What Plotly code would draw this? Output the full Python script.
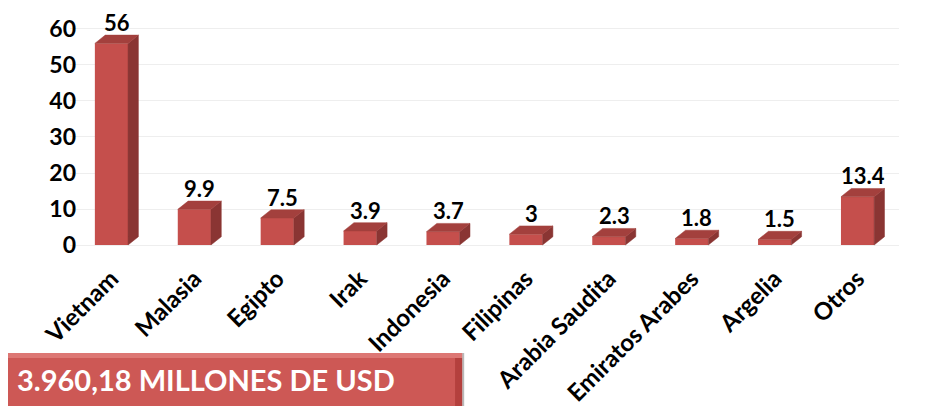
import plotly.graph_objects as go

# data
paises = ['Vietnam', 'Malasia', 'Egipto', 'Irak', 'Indonesia', 'Filipinas',
          'Arabia Saudita', 'Emiratos Arabes', 'Argelia', 'Otros']
valores = [56, 9.9, 7.5, 3.9, 3.7, 3, 2.3, 1.8, 1.5, 13.4]
etiquetas = ['56', '9.9', '7.5', '3.9', '3.7', '3', '2.3', '1.8', '1.5', '13.4']
total_texto = '3.960,18 MILLONES DE USD'

# 3D look of the bars
ancho = 0.4      # front face width (category units)
dx = 0.125       # depth to the right
dy = 2.3         # depth upward (value units)

xs = list(range(len(paises)))

# side faces
lado_x, lado_y = [], []
for i, v in zip(xs, valores):
    r = i + ancho / 2
    lado_x += [r, r + dx, r + dx, r, r, None]
    lado_y += [0, dy, v + dy, v, 0, None]

# top faces
tapa_x, tapa_y = [], []
for i, v in zip(xs, valores):
    l = i - ancho / 2
    r = i + ancho / 2
    tapa_x += [l, l + dx, r + dx, r, l, None]
    tapa_y += [v, v + dy, v + dy, v, v, None]

fig = go.Figure()

fig.add_trace(go.Bar(
    x=xs, y=valores, width=ancho,
    marker=dict(color='#C54F4C', line=dict(width=0)),
    hoverinfo='skip'
))
fig.add_trace(go.Scatter(
    x=lado_x, y=lado_y, mode='lines', fill='toself',
    fillcolor='#8A3533', line=dict(width=0.5, color='#8A3533'),
    hoverinfo='skip'
))
fig.add_trace(go.Scatter(
    x=tapa_x, y=tapa_y, mode='lines', fill='toself',
    fillcolor='#A3403D', line=dict(width=0.5, color='#A3403D'),
    hoverinfo='skip'
))

# value labels
for i, v, t in zip(xs, valores, etiquetas):
    fig.add_annotation(
        x=i + dx / 2, y=v + dy, text=t, showarrow=False,
        yanchor='bottom', yshift=-2, borderpad=0,
        font=dict(family='Lato', size=22, color='black', weight='bold')
    )

# banner with the total (flat face + light top bevel + dark right bevel)
fig.add_shape(
    type='rect', xref='paper', yref='paper',
    x0=0.473, x1=0.4755, y0=-0.4435, y1=-0.72,
    fillcolor='#B8B8B8', line=dict(width=0), layer='above'
)
fig.add_shape(
    type='rect', xref='paper', yref='paper',
    x0=-0.0837, x1=0.473, y0=-0.4435, y1=-0.72,
    fillcolor='#CD5855', line=dict(width=0), layer='above'
)
fig.add_shape(
    type='rect', xref='paper', yref='paper',
    x0=-0.0837, x1=0.473, y0=-0.4435, y1=-0.4644,
    fillcolor='#DD7774', line=dict(width=0), layer='above'
)
fig.add_shape(
    type='rect', xref='paper', yref='paper',
    x0=0.4645, x1=0.473, y0=-0.4644, y1=-0.72,
    fillcolor='#B4403D', line=dict(width=0), layer='above'
)
fig.add_annotation(
    xref='paper', yref='paper', x=-0.066, y=-0.556,
    xanchor='left', yanchor='middle', showarrow=False, text=total_texto,
    font=dict(family='Lato', size=29, color='white', weight='bold')
)

fig.update_layout(
    width=930, height=406,
    margin=dict(l=61.5, r=38.5, t=0, b=167, autoexpand=False),
    plot_bgcolor='white', paper_bgcolor='white',
    showlegend=False,
    xaxis=dict(
        range=[-0.5, 9.5], tickvals=xs, ticktext=paises, tickangle=-45,
        showgrid=False, zeroline=False, showline=False, automargin=False,
        ticklabelstandoff=12,
        tickfont=dict(family='Lato', size=24, color='black', weight='bold')
    ),
    yaxis=dict(
        range=[-0.556, 65.83], tickvals=[0, 10, 20, 30, 40, 50, 60],
        showgrid=True, gridcolor='#EEEEEE', zeroline=False, showline=False,
        automargin=False, ticklabelstandoff=-7,
        tickfont=dict(family='Lato', size=23, color='black', weight='bold')
    )
)

fig.write_html('out.html')
